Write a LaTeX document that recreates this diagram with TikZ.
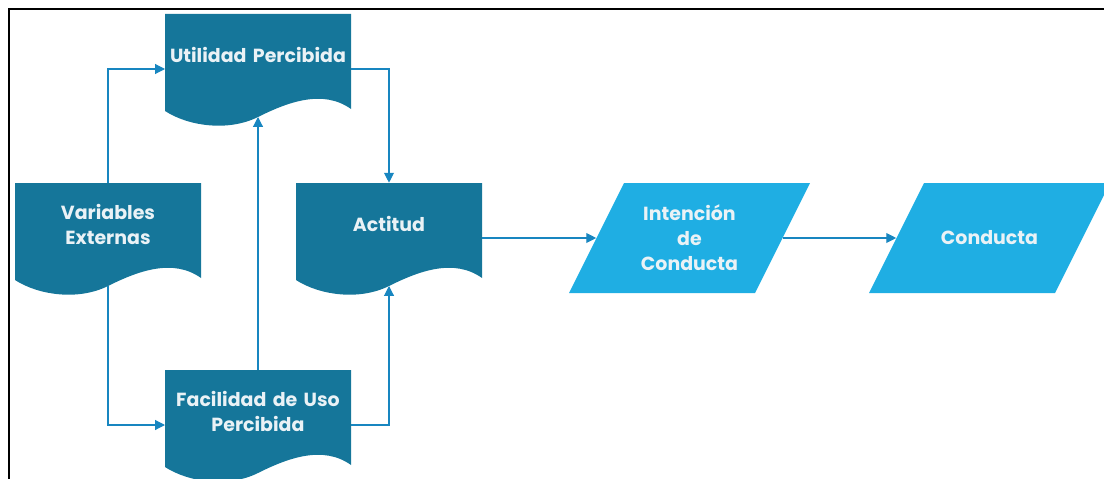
\documentclass[tikz,border=0pt]{standalone}
\usepackage{fontspec}
\setmainfont{Poppins}
\usetikzlibrary{arrows.meta,calc}
\definecolor{docteal}{RGB}{21,118,154}
\definecolor{parblue}{RGB}{31,174,227}
\definecolor{linkblue}{RGB}{24,134,192}
\definecolor{boxtext}{RGB}{234,242,246}
\pgfdeclarelayer{background}
\pgfsetlayers{background,main}
\tikzstyle{docnode}=[rectangle,minimum width=4.65cm,minimum height=2.05cm,inner sep=0pt,text width=4.5cm,align=center,text=boxtext,font=\bfseries\fontsize{13.5}{17.8}\selectfont]
\tikzstyle{ionode}=[rectangle,minimum width=4.65cm,minimum height=2.75cm,inner sep=0pt,text width=4cm,align=center,text=boxtext,font=\bfseries\fontsize{13.5}{17.8}\selectfont]
\tikzstyle{link}=[draw,linkblue,line width=0.8pt,-{Triangle[length=7pt,width=7pt]}]

\begin{document}
\begin{tikzpicture}[x=0.025cm,y=-0.025cm]
    \useasboundingbox (0,0) rectangle (1104,479);
    \clip (0,0) rectangle (1104,479);
    % outer frame
    \draw[line width=1.4pt] (9,9) rectangle (1130,500);

    % the document shaped boxes
    \foreach \x/\y/\name/\txt in {258/55/util/{Utilidad Percibida}, 108/224/varext/{Variables\\Externas}, 389/224/actitud/{Actitud}, 258/411/facil/{Facilidad de Uso\\Percibida}} {
        \node[docnode] (\name) at (\x,\y) {\txt};
        \coordinate (\name-wave) at (\x,{\y+62});
        \coordinate (\name-w) at ({\x-93},{\y+14});
        \coordinate (\name-e) at ({\x+93},{\y+14});
        \begin{pgfonlayer}{background}
        \fill[docteal, shift={(\x,\y)}] (-93,-41) -- (93,-41) -- (93,54)
            .. controls (65,34) and (30,47) .. (0,62)
            .. controls (-30,77) and (-70,71) .. (-93,56) -- cycle;
        \end{pgfonlayer}
    }

    % the slanted boxes
    \foreach \x/\y/\name/\txt in {689.5/238/intencion/{Intención\\de\\Conducta}, 989.5/238/conducta/{Conducta}} {
        \node[ionode] (\name) at (\x,\y) {\txt};
        \begin{pgfonlayer}{background}
        \fill[parblue, shift={(\x,\y)}] (-120.5,55) -- (65.5,55) -- (120.5,-55) -- (-65.5,-55) -- cycle;
        \end{pgfonlayer}
    }

    % connectors
    \path[link] (varext.north) |- (util-w);
    \path[link] (varext-wave) |- (facil-w);
    \path[link] (facil.north) -- (util-wave);
    \path[link] (util-e) -| (actitud.north);
    \path[link] (facil-e) -| (actitud-wave);
    \path[link] (actitud-e) -- (intencion.west);
    \path[link] (intencion.east) -- (conducta.west);
\end{tikzpicture}
\end{document}
